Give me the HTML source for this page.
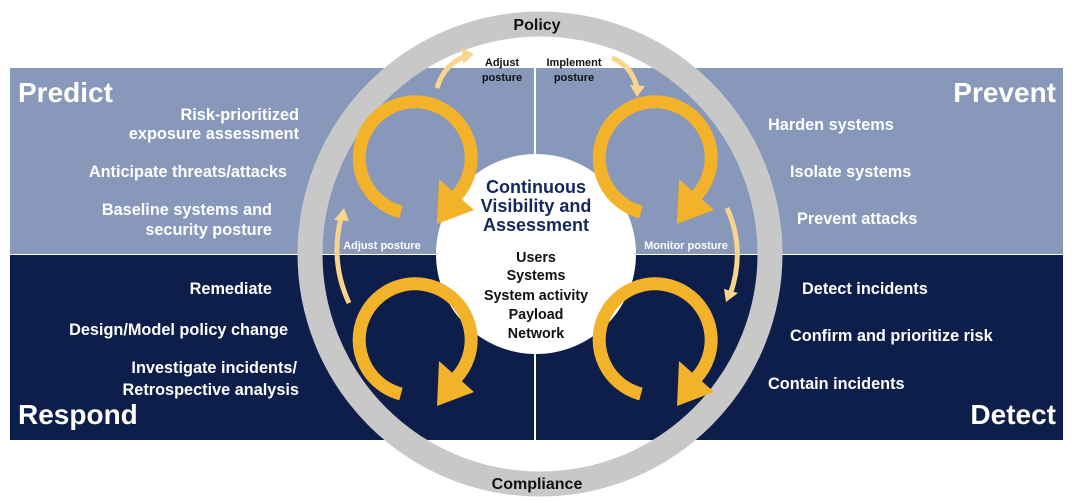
<!DOCTYPE html>
<html><head><meta charset="utf-8"><style>
html,body{margin:0;padding:0;background:#fff;width:1080px;height:502px;overflow:hidden}
svg text{font-family:"Liberation Sans",Arial,sans-serif;font-weight:bold}
</style></head><body>
<svg width="1080" height="502" viewBox="0 0 1080 502" xmlns="http://www.w3.org/2000/svg">
<rect x="10" y="68" width="1053" height="186" fill="#8798bb"/>
<rect x="10" y="255" width="1053" height="185" fill="#0d1e4b"/>
<rect x="534" y="68" width="2" height="372" fill="#fff"/>
<circle cx="540" cy="254" r="230" fill="none" stroke="#c8c8c8" stroke-width="25"/>
<circle cx="536" cy="254" r="100" fill="#fff"/>
<defs>
<g id="loop">
<path d="M -14 54 A 56 56 0 1 1 41.6 37.5" fill="none" stroke="#f2b22a" stroke-width="13"/>
<polygon points="59,52 24,21 22,66" fill="#f2b22a"/>
</g>
</defs>
<use href="#loop" x="415" y="158"/>
<use href="#loop" x="655" y="158"/>
<use href="#loop" x="415" y="340"/>
<use href="#loop" x="655" y="340"/>
<g fill="none" stroke="#f8d58b" stroke-width="5">
<path d="M437 88 Q444 64 466 56"/>
<path d="M612 58 Q632 66 637 88"/>
<path d="M349 303 Q330 262 341 218"/>
<path d="M727 208 Q746 250 730 295"/>
</g>
<g fill="#f8d58b">
<polygon points="474,54 462,48 463,64"/>
<polygon points="637,97 630,85 645,86"/>
<polygon points="344,208 334,220 349,221"/>
<polygon points="726,302 724,289 738,293"/>
</g>
<text x="537" y="30" font-size="16" text-anchor="middle" fill="#111">Policy</text>
<text x="537" y="489" font-size="16" text-anchor="middle" fill="#111">Compliance</text>
<g font-size="11" text-anchor="middle" fill="#111">
<text x="502" y="66">Adjust</text><text x="502" y="81">posture</text>
<text x="574" y="66">Implement</text><text x="574" y="81">posture</text>
</g>
<g font-size="11" text-anchor="middle" fill="#fff">
<text x="382" y="249">Adjust posture</text>
<text x="686" y="249">Monitor posture</text>
</g>
<g font-size="18" text-anchor="middle" fill="#14285a">
<text x="536" y="193">Continuous</text>
<text x="536" y="212">Visibility and</text>
<text x="536" y="231">Assessment</text>
</g>
<g font-size="14.3" text-anchor="middle" fill="#111">
<text x="536" y="262">Users</text>
<text x="536" y="280">Systems</text>
<text x="536" y="300">System activity</text>
<text x="536" y="319">Payload</text>
<text x="536" y="338">Network</text>
</g>
<g font-size="28" fill="#fff">
<text x="18" y="102">Predict</text>
<text x="1056" y="102" text-anchor="end">Prevent</text>
<text x="18" y="424">Respond</text>
<text x="1056" y="424" text-anchor="end">Detect</text>
</g>
<g font-size="16.3" fill="#fff" text-anchor="end">
<text x="299" y="120">Risk-prioritized</text>
<text x="299" y="139">exposure assessment</text>
<text x="287" y="177">Anticipate threats/attacks</text>
<text x="272" y="215">Baseline systems and</text>
<text x="272" y="235">security posture</text>
<text x="272" y="294">Remediate</text>
<text x="288" y="335">Design/Model policy change</text>
<text x="297" y="373">Investigate incidents/</text>
<text x="299" y="395">Retrospective analysis</text>
</g>
<g font-size="16.3" fill="#fff">
<text x="768" y="130">Harden systems</text>
<text x="790" y="177">Isolate systems</text>
<text x="797" y="224">Prevent attacks</text>
<text x="802" y="294">Detect incidents</text>
<text x="790" y="341">Confirm and prioritize risk</text>
<text x="768" y="389">Contain incidents</text>
</g>
</svg>
</body></html>
